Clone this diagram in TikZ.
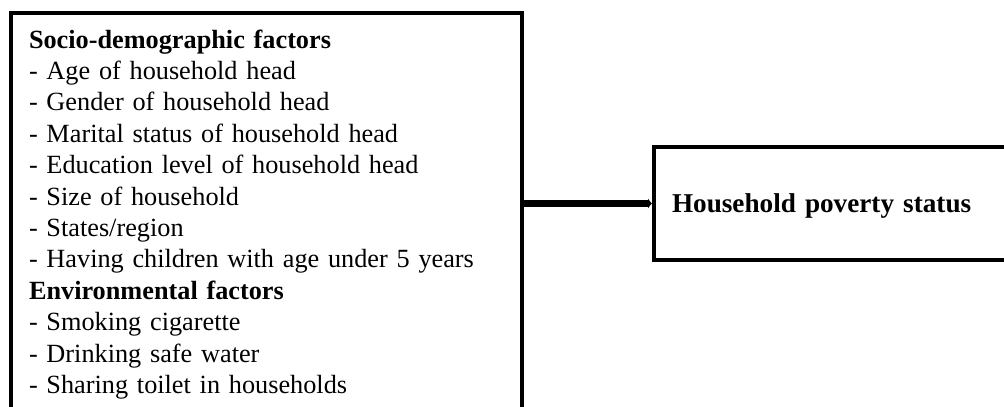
\documentclass[tikz,border=0pt]{standalone}
\usepackage{fontspec}
\setmainfont{Liberation Serif}
\usetikzlibrary{arrows.meta}
\tikzset{
  framebox/.style={draw=black, line width=3pt, fill=white},
  listtext/.style={font=\fontsize{19.7pt}{23.55pt}\selectfont},
  titletext/.style={font=\fontsize{20.4pt}{23.55pt}\selectfont},
  link/.style={line width=5pt, -{Latex[length=3pt,width=8pt]}}
}
\begin{document}
\begin{tikzpicture}[x=0.75pt,y=-0.75pt]
  \useasboundingbox (0,0) rectangle (1004,407);
  % factor list (bottom edge runs past the page)
  \node[framebox, listtext, anchor=north west, inner xsep=13.5pt, inner ysep=12.4pt,
        text width=356.25pt, align=left] (factors) at (9,11)
    {\textbf{Socio-demographic factors}\\
     - Age of household head\\
     - Gender of household head\\
     - Marital status of household head\\
     - Education level of household head\\
     - Size of household\\
     - States/region\\
     - Having children with age under 5 years\\
     \textbf{Environmental factors}\\
     - Smoking cigarette\\
     - Drinking safe water\\
     - Sharing toilet in households};
  % outcome
  \node[framebox, titletext, anchor=west, minimum height=84.75pt, inner xsep=13.5pt,
        text width=238pt, align=left, text depth=0pt] (status) at (652,203.5)
    {\textbf{Household poverty status}};
  \draw[link] (factors.east |- status.west) -- (status.west);
\end{tikzpicture}
\end{document}
